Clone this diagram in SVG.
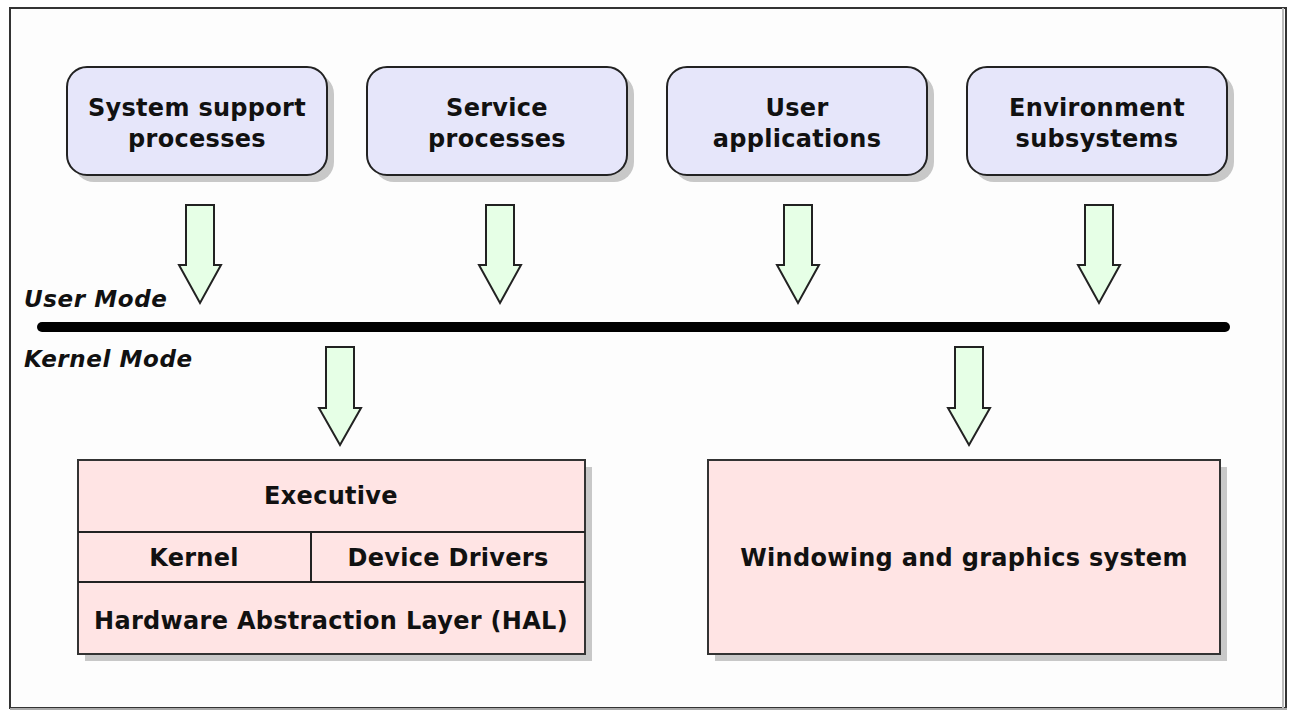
<svg xmlns="http://www.w3.org/2000/svg" width="1295" height="711" viewBox="0 0 1295 711">
<style>
.bg{fill:#fdfdfd}
.proc{fill:#e6e6fa;stroke:#222;stroke-width:2}
.sys{fill:#ffe4e4;stroke:#333;stroke-width:2}
.shadow{fill:#c8c8c8}
.arrow{fill:#e6ffe6;stroke:#222;stroke-width:2;stroke-linejoin:miter}
.t{font-family:"DejaVu Sans",Verdana,sans-serif;font-weight:bold;font-size:24px;fill:#111;text-anchor:middle;letter-spacing:0.3px}
.mode{font-family:"DejaVu Sans",Verdana,sans-serif;font-weight:bold;font-style:italic;font-size:23px;fill:#111;letter-spacing:0.6px}
.div{stroke:#222;stroke-width:2}
</style>
<rect x="0" y="0" width="1295" height="711" fill="#ffffff"/>
<rect class="bg" x="10" y="8" width="1276" height="700"/>
<rect x="10" y="8" width="1276" height="700" fill="none" stroke="#333" stroke-width="2"/>
<line x1="1283" y1="8" x2="1283" y2="708" stroke="#bbb" stroke-width="2"/>
<line x1="10" y1="709" x2="1287" y2="709" stroke="#aaa" stroke-width="2"/>

<g id="system-support">
<rect class="shadow" x="74" y="74" width="260" height="108" rx="20"/>
<rect class="proc" x="67" y="67" width="260" height="108" rx="20"/>
<text class="t" x="197" y="116">System support</text>
<text class="t" x="197" y="147">processes</text>
</g>
<g id="service-processes">
<rect class="shadow" x="374" y="74" width="260" height="108" rx="20"/>
<rect class="proc" x="367" y="67" width="260" height="108" rx="20"/>
<text class="t" x="497" y="116">Service</text>
<text class="t" x="497" y="147">processes</text>
</g>
<g id="user-applications">
<rect class="shadow" x="674" y="74" width="260" height="108" rx="20"/>
<rect class="proc" x="667" y="67" width="260" height="108" rx="20"/>
<text class="t" x="797" y="116">User</text>
<text class="t" x="797" y="147">applications</text>
</g>
<g id="environment-subsystems">
<rect class="shadow" x="974" y="74" width="260" height="108" rx="20"/>
<rect class="proc" x="967" y="67" width="260" height="108" rx="20"/>
<text class="t" x="1097" y="116">Environment</text>
<text class="t" x="1097" y="147">subsystems</text>
</g>

<g id="mode-boundary">
<text class="mode" x="24" y="307">User Mode</text>
<line x1="42" y1="327" x2="1225" y2="327" stroke="#000" stroke-width="10" stroke-linecap="round"/>
<text class="mode" x="24" y="367">Kernel Mode</text>
</g>

<g id="connectors">
<path class="arrow" d="M186,205 H214 V265 H221 L200,303 L179,265 H186 Z"/>
<path class="arrow" d="M486,205 H514 V265 H521 L500,303 L479,265 H486 Z"/>
<path class="arrow" d="M784,205 H812 V265 H819 L798,303 L777,265 H784 Z"/>
<path class="arrow" d="M1085,205 H1113 V265 H1120 L1099,303 L1078,265 H1085 Z"/>
<path class="arrow" d="M326,347 H354 V408 H361 L340,445 L319,408 H326 Z"/>
<path class="arrow" d="M955,347 H983 V408 H990 L969,445 L948,408 H955 Z"/>
</g>

<g id="executive-stack">
<rect class="shadow" x="85" y="467" width="507" height="194"/>
<rect class="sys" x="78" y="460" width="507" height="194"/>
<line class="div" x1="78" y1="532" x2="585" y2="532"/>
<line class="div" x1="78" y1="582" x2="585" y2="582"/>
<line class="div" x1="311" y1="532" x2="311" y2="582"/>
<text class="t" x="331" y="504">Executive</text>
<text class="t" x="194" y="566">Kernel</text>
<text class="t" x="448" y="566">Device Drivers</text>
<text class="t" x="331" y="629">Hardware Abstraction Layer (HAL)</text>
</g>

<g id="windowing">
<rect class="shadow" x="715" y="467" width="512" height="194"/>
<rect class="sys" x="708" y="460" width="512" height="194"/>
<text class="t" x="964" y="566">Windowing and graphics system</text>
</g>
</svg>
